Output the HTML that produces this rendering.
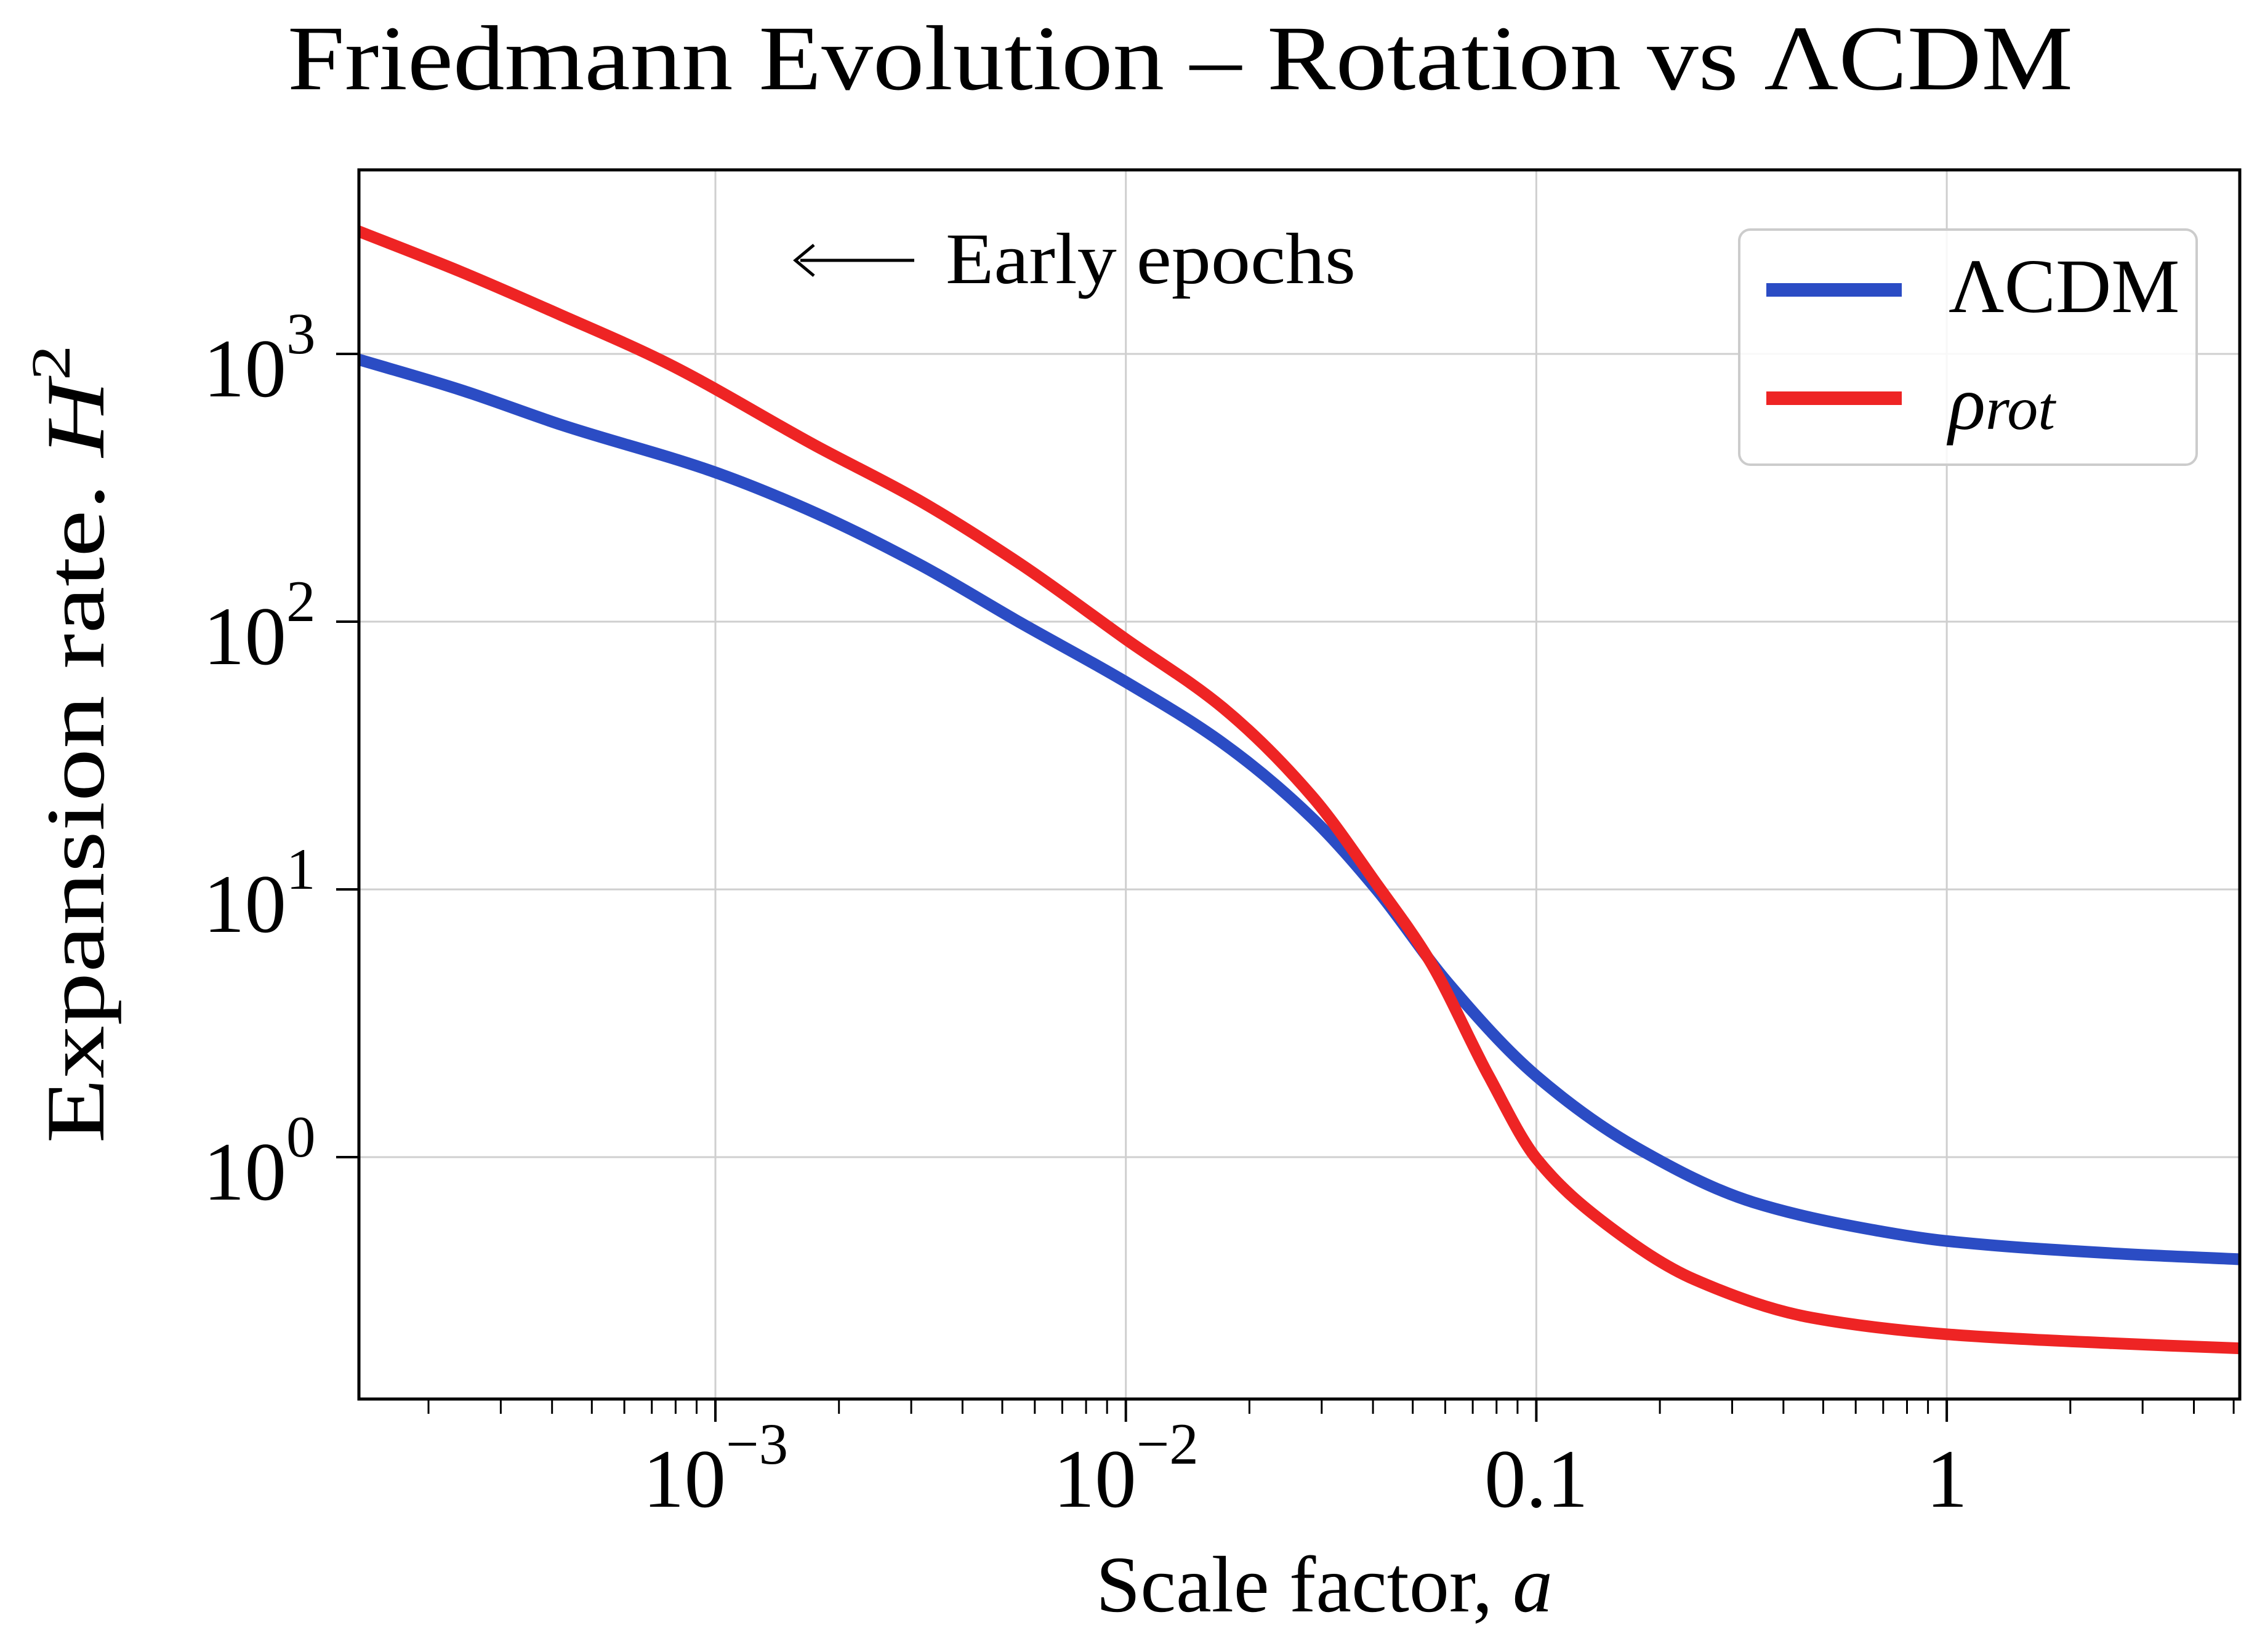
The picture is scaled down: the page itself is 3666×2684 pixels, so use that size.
<!DOCTYPE html>
<html><head><meta charset="utf-8">
<style>
html,body{margin:0;padding:0;background:#fff;}
svg{display:block;}
text{font-family:"Liberation Serif",serif;fill:#000;}
</style></head>
<body>
<svg id="chart" width="3666" height="2684" viewBox="0 0 3666 2684" xmlns="http://www.w3.org/2000/svg">
<rect width="3666" height="2684" fill="#fff"/>
<text x="1917" y="145" font-size="150" text-anchor="middle" textLength="2900" lengthAdjust="spacingAndGlyphs">Friedmann Evolution – Rotation vs ΛCDM</text>
<g id="grid"></g>
<g id="series"></g>
<g id="axes"></g>
<g>
  <line x1="1300" y1="423" x2="1485" y2="423" stroke="#000" stroke-width="5"/>
  <path d="M1322,398 L1292,423 L1322,448" fill="none" stroke="#000" stroke-width="5"/>
  <text x="1536" y="460" font-size="118" textLength="666" lengthAdjust="spacingAndGlyphs">Early epochs</text>
</g>
<g>
  <rect x="2825" y="373" width="743" height="382" rx="18" fill="#fff" fill-opacity="0.85" stroke="#ccc" stroke-width="4"/>
  <line x1="2869" y1="471" x2="3089" y2="471" stroke="#2b4cc4" stroke-width="22"/>
  <text x="3165" y="507" font-size="125">ΛCDM</text>
  <line x1="2869" y1="647" x2="3089" y2="647" stroke="#ee2424" stroke-width="22"/>
  <text x="3165" y="697" font-size="125" font-style="italic">ρ<tspan font-size="100">rot</tspan></text>
</g>
<text x="2151" y="2618" font-size="130" text-anchor="middle">Scale factor, <tspan font-style="italic">a</tspan></text>
<text transform="translate(168,1209) rotate(-90)" font-size="135" text-anchor="middle" textLength="1297" lengthAdjust="spacingAndGlyphs">Expansion rate. <tspan font-style="italic">H</tspan><tspan font-size="90" dy="-55">2</tspan></text>
</svg>
<script>
const aBlue = [1.33e-4, 2.38e-4, 4.22e-4, 1e-3, 1.76e-3, 3.13e-3, 5.54e-3, 0.01, 0.01726, 0.0284, 0.0408, 0.0607, 0.1, 0.1746, 0.338, 0.656, 1, 2.5, 5.24];
const hBlue = [960, 736, 543, 361, 254, 164, 99, 59.5, 35.1, 18.5, 10.0, 4.50, 2.01, 1.09, 0.678, 0.536, 0.486, 0.438, 0.415];
const aRed = [1.33e-4, 2.38e-4, 4.22e-4, 7.47e-4, 1.76e-3, 3.13e-3, 5.54e-3, 0.01, 0.01726, 0.0284, 0.0408, 0.0550, 0.0766, 0.1, 0.148, 0.243, 0.471, 1, 2.5, 5.24];
const hRed = [2900, 2037, 1393, 938, 453, 284, 164, 86, 47.6, 22.3, 10.5, 5.41, 2.01, 0.989, 0.562, 0.349, 0.251, 0.218, 0.202, 0.193];
const xTickVals = [1e-3, 1e-2, 0.1, 1];
const xTickLabels = [["10","−3"], ["10","−2"], ["0.1",""], ["1",""]];
const yTickVals = [1e3, 1e2, 10, 1];
const yTickLabels = [["10","3"], ["10","2"], ["10","1"], ["10","0"]];

const L=583, R=3638, T=276, B=2273;
const xMin=Math.log10(1.35e-4), xMax=Math.log10(5.24);
const X0=1162, XD=666.7, Y0=1880, YD=435;
function sx(a){return X0+(Math.log10(a)+3)*XD;}
function sy(h){return Y0-Math.log10(h)*YD;}
const NS="http://www.w3.org/2000/svg";
function mk(tag, attrs, parent){const e=document.createElementNS(NS,tag);for(const k in attrs)e.setAttribute(k,attrs[k]);parent.appendChild(e);return e;}
const grid=document.getElementById('grid'), axes=document.getElementById('axes'), series=document.getElementById('series');

xTickVals.forEach((v,i)=>{
  const x=sx(v);
  const g=mk('line',{x1:x,y1:T,x2:x,y2:B,stroke:'#cfcfcf','stroke-width':3},grid);
  
  
  const t=mk('line',{x1:x,y1:B,x2:x,y2:B+37,stroke:'#000','stroke-width':4},axes);
  
  
  const lab=xTickLabels[i];
  const tx=mk('text',{x:lab[1]?x-118:x,y:2448,'font-size':135,'text-anchor':lab[1]?'start':'middle'},axes);
  
  
  tx.textContent=lab[0];
  if(lab[1]){const s=mk('tspan',{'font-size':95,dy:-70},tx);s.textContent=lab[1];}
});
for(let d=-4; d<=0; d++){
  for(let m=2;m<=9;m++){
    const v=m*Math.pow(10,d); const lv=Math.log10(v);
    if(lv<xMin||lv>xMax) continue;
    const x=sx(v);
    const t=mk('line',{x1:x,y1:B,x2:x,y2:B+24,stroke:'#000','stroke-width':3},axes);
    
    
  }
}
yTickVals.forEach((v,i)=>{
  const y=sy(v);
  const g=mk('line',{x1:L,y1:y,x2:R,y2:y,stroke:'#cfcfcf','stroke-width':3},grid);
  
  
  const t=mk('line',{x1:L-37,y1:y,x2:L,y2:y,stroke:'#000','stroke-width':4},axes);
  
  
  const tx=mk('text',{x:330,y:y+69,'font-size':135},axes);
  
  
  tx.textContent=yTickLabels[i][0];
  const s=mk('tspan',{'font-size':95,dy:-70},tx); s.textContent=yTickLabels[i][1];
});
const frame=mk('rect',{x:L,y:T,width:R-L,height:B-T,fill:'none',stroke:'#000','stroke-width':5},axes);



// Monotone cubic (Fritsch-Carlson) through screen points
function pathFor(xs,ys){
  const px=xs.map(sx), py=ys.map(sy), n=px.length;
  const dl=[], m=new Array(n);
  for(let i=0;i<n-1;i++) dl.push((py[i+1]-py[i])/(px[i+1]-px[i]));
  m[0]=dl[0]; m[n-1]=dl[n-2];
  for(let i=1;i<n-1;i++){
    if(dl[i-1]*dl[i]<=0){m[i]=0;}
    else{const h0=px[i]-px[i-1],h1=px[i+1]-px[i];const w1=2*h1+h0,w2=h1+2*h0;m[i]=(w1+w2)/(w1/dl[i-1]+w2/dl[i]);}
  }
  let d='M'+px[0].toFixed(1)+','+py[0].toFixed(1);
  for(let i=0;i<n-1;i++){
    const h=px[i+1]-px[i];
    d+=' C'+(px[i]+h/3).toFixed(1)+','+(py[i]+m[i]*h/3).toFixed(1)+' '+(px[i+1]-h/3).toFixed(1)+','+(py[i+1]-m[i+1]*h/3).toFixed(1)+' '+px[i+1].toFixed(1)+','+py[i+1].toFixed(1);
  }
  return d;
}
const clip=mk('clipPath',{id:'pc'},series); mk('rect',{x:L,y:T,width:R-L,height:B-T},clip);
const lb=mk('path',{d:pathFor(aBlue,hBlue),fill:'none',stroke:'#2b4cc4','stroke-width':19,'stroke-linejoin':'round','clip-path':'url(#pc)'},series);


const lr=mk('path',{d:pathFor(aRed,hRed),fill:'none',stroke:'#ee2424','stroke-width':19,'stroke-linejoin':'round','clip-path':'url(#pc)'},series);


</script>
</body></html>
